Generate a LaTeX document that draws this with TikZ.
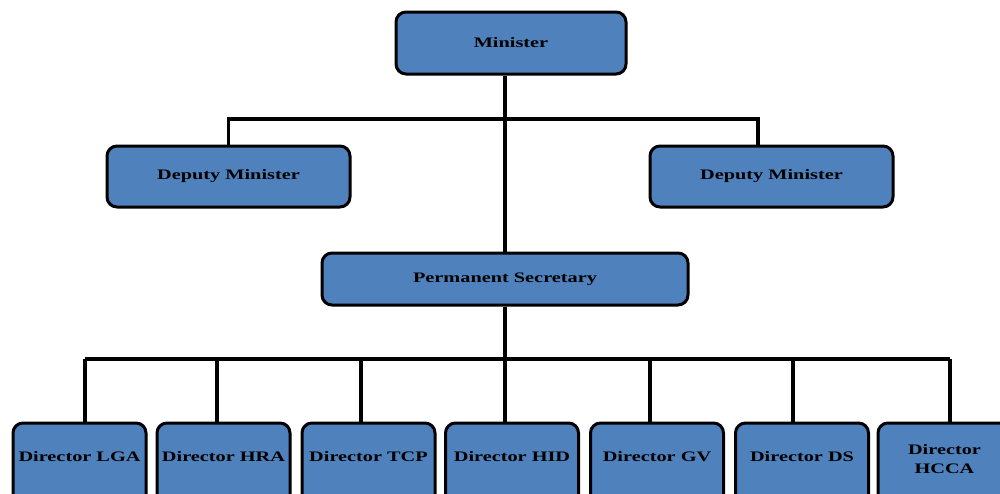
\documentclass[tikz,border=0pt]{standalone}
\usepackage{fontspec}
\setmainfont{Liberation Serif}[FakeStretch=1.4]
\usepackage{tikz}
\usepackage{xcolor}
\definecolor{boxblue}{HTML}{4F81BD}
\tikzset{
	post/.style={draw=black, fill=boxblue, line width=3pt, rounded corners=10pt,
		font=\fontsize{14.5}{19}\selectfont\bfseries, inner sep=2pt, align=center},
	director/.style={post, minimum width=133pt, minimum height=82pt,
		text height=10pt, text depth=15pt},
	link/.style={line width=3.2pt}
}

\begin{document}
\begin{tikzpicture}[x=1pt, y=-1pt]
			\useasboundingbox (0,0) rectangle (1000,493);
			\clip (0,0) rectangle (1000,493);
			% top of the chart
			\node[post, minimum width=230pt, minimum height=62pt] (min) at (511,43) {Minister};
			\node[post, minimum width=243pt, minimum height=61pt] (depL) at (228.5,176.5) {Deputy Minister};
			\node[post, minimum width=243pt, minimum height=61pt] (depR) at (771.5,176.5) {Deputy Minister};
			\node[post, minimum width=366pt, minimum height=52pt] (ps) at (505,279) {Permanent Secretary};
			\coordinate (bar) at (505,119);
			\coordinate (lowbar) at (505,359);
			\draw[link] (min.south -| ps.north) -- (ps.north);
			\draw[link] (depL.north) |- (bar) -| ([xshift=-13.5pt]depR.north);
			\draw[link] (ps.south) -- (lowbar);
			% directors
			\foreach \n/\bx/\lx/\txt in {1/79.5/85/Director LGA, 2/223.5/217/Director HRA,
				3/368.5/361/Director TCP, 4/512/505/Director HID, 5/657/650/Director GV,
				6/802/793/Director DS}
			{
				\node[director] (d\n) at (\bx,464) {\txt};
				\coordinate (t\n) at (\lx,359);
				\draw[link] (t\n) -- (t\n |- d\n.north);
			}
			\node[director, text height=30pt, text depth=12pt] (d7) at (944.5,464) {Director\\HCCA};
			\coordinate (t7) at (950,359);
			\draw[link] (t7) -- (t7 |- d7.north);
			\draw[link] (t1) -- (t7);
		\end{tikzpicture}
\end{document}
